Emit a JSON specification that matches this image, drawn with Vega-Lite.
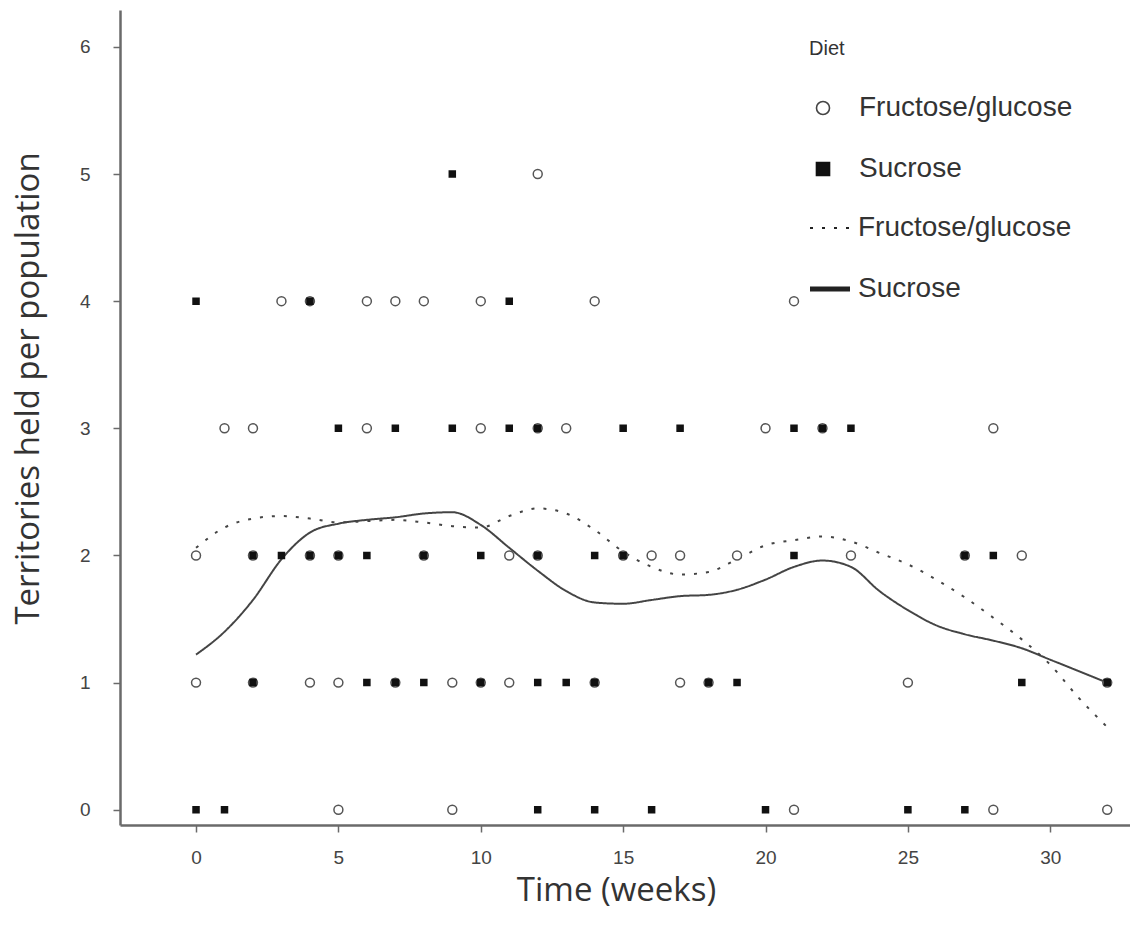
{
  "$schema": "https://vega.github.io/schema/vega-lite/v6.json",
  "autosize": "none",
  "width": 1010,
  "height": 815,
  "padding": {"left": 120, "top": 10, "right": 0, "bottom": 113},
  "background": "white",
  "config": {
    "view": {"stroke": null},
    "axis": {
      "grid": false,
      "domainColor": "#6a6a6a",
      "domainWidth": 2.5,
      "tickColor": "#6a6a6a",
      "tickWidth": 1.5,
      "tickSize": 7,
      "labelFont": "Liberation Sans",
      "labelFontSize": 19,
      "labelColor": "#444",
      "titleFont": "Open Sans",
      "titleFontSize": 33,
      "titleFontWeight": "normal",
      "titleColor": "#333"
    },
    "legend": {
      "labelFont": "Liberation Sans",
      "labelFontSize": 28,
      "labelColor": "#333",
      "labelLimit": 0,
      "titleFont": "Liberation Sans",
      "titleFontSize": 20,
      "titleFontWeight": "normal",
      "titleColor": "#333"
    }
  },
  "datasets": {
    "curves": [
      {"week": 0, "territories": 1.22, "diet": "Sucrose"},
      {"week": 1, "territories": 1.4, "diet": "Sucrose"},
      {"week": 2, "territories": 1.65, "diet": "Sucrose"},
      {"week": 3, "territories": 1.97, "diet": "Sucrose"},
      {"week": 4, "territories": 2.18, "diet": "Sucrose"},
      {"week": 5, "territories": 2.25, "diet": "Sucrose"},
      {"week": 6, "territories": 2.28, "diet": "Sucrose"},
      {"week": 7, "territories": 2.3, "diet": "Sucrose"},
      {"week": 8, "territories": 2.33, "diet": "Sucrose"},
      {"week": 9, "territories": 2.34, "diet": "Sucrose"},
      {"week": 10, "territories": 2.24, "diet": "Sucrose"},
      {"week": 11, "territories": 2.06, "diet": "Sucrose"},
      {"week": 12, "territories": 1.88, "diet": "Sucrose"},
      {"week": 13, "territories": 1.72, "diet": "Sucrose"},
      {"week": 14, "territories": 1.63, "diet": "Sucrose"},
      {"week": 15, "territories": 1.62, "diet": "Sucrose"},
      {"week": 16, "territories": 1.65, "diet": "Sucrose"},
      {"week": 17, "territories": 1.68, "diet": "Sucrose"},
      {"week": 18, "territories": 1.69, "diet": "Sucrose"},
      {"week": 19, "territories": 1.73, "diet": "Sucrose"},
      {"week": 20, "territories": 1.81, "diet": "Sucrose"},
      {"week": 21, "territories": 1.91, "diet": "Sucrose"},
      {"week": 22, "territories": 1.96, "diet": "Sucrose"},
      {"week": 23, "territories": 1.91, "diet": "Sucrose"},
      {"week": 24, "territories": 1.72, "diet": "Sucrose"},
      {"week": 25, "territories": 1.57, "diet": "Sucrose"},
      {"week": 26, "territories": 1.45, "diet": "Sucrose"},
      {"week": 27, "territories": 1.38, "diet": "Sucrose"},
      {"week": 28, "territories": 1.33, "diet": "Sucrose"},
      {"week": 29, "territories": 1.27, "diet": "Sucrose"},
      {"week": 30, "territories": 1.18, "diet": "Sucrose"},
      {"week": 31, "territories": 1.09, "diet": "Sucrose"},
      {"week": 32, "territories": 1.0, "diet": "Sucrose"},
      {"week": 0, "territories": 2.06, "diet": "Fructose/glucose"},
      {"week": 1, "territories": 2.22, "diet": "Fructose/glucose"},
      {"week": 2, "territories": 2.29, "diet": "Fructose/glucose"},
      {"week": 3, "territories": 2.31, "diet": "Fructose/glucose"},
      {"week": 4, "territories": 2.29, "diet": "Fructose/glucose"},
      {"week": 5, "territories": 2.26, "diet": "Fructose/glucose"},
      {"week": 6, "territories": 2.27, "diet": "Fructose/glucose"},
      {"week": 7, "territories": 2.28, "diet": "Fructose/glucose"},
      {"week": 8, "territories": 2.26, "diet": "Fructose/glucose"},
      {"week": 9, "territories": 2.23, "diet": "Fructose/glucose"},
      {"week": 10, "territories": 2.22, "diet": "Fructose/glucose"},
      {"week": 11, "territories": 2.31, "diet": "Fructose/glucose"},
      {"week": 12, "territories": 2.37, "diet": "Fructose/glucose"},
      {"week": 13, "territories": 2.33, "diet": "Fructose/glucose"},
      {"week": 14, "territories": 2.2, "diet": "Fructose/glucose"},
      {"week": 15, "territories": 2.03, "diet": "Fructose/glucose"},
      {"week": 16, "territories": 1.91, "diet": "Fructose/glucose"},
      {"week": 17, "territories": 1.85, "diet": "Fructose/glucose"},
      {"week": 18, "territories": 1.87, "diet": "Fructose/glucose"},
      {"week": 19, "territories": 1.97, "diet": "Fructose/glucose"},
      {"week": 20, "territories": 2.08, "diet": "Fructose/glucose"},
      {"week": 21, "territories": 2.12, "diet": "Fructose/glucose"},
      {"week": 22, "territories": 2.15, "diet": "Fructose/glucose"},
      {"week": 23, "territories": 2.11, "diet": "Fructose/glucose"},
      {"week": 24, "territories": 2.02, "diet": "Fructose/glucose"},
      {"week": 25, "territories": 1.93, "diet": "Fructose/glucose"},
      {"week": 26, "territories": 1.81, "diet": "Fructose/glucose"},
      {"week": 27, "territories": 1.67, "diet": "Fructose/glucose"},
      {"week": 28, "territories": 1.51, "diet": "Fructose/glucose"},
      {"week": 29, "territories": 1.34, "diet": "Fructose/glucose"},
      {"week": 30, "territories": 1.14, "diet": "Fructose/glucose"},
      {"week": 31, "territories": 0.88, "diet": "Fructose/glucose"},
      {"week": 32, "territories": 0.65, "diet": "Fructose/glucose"}
    ],
    "points": [
      {"week": 12, "territories": 5, "diet": "Fructose/glucose"},
      {"week": 3, "territories": 4, "diet": "Fructose/glucose"},
      {"week": 4, "territories": 4, "diet": "Fructose/glucose"},
      {"week": 6, "territories": 4, "diet": "Fructose/glucose"},
      {"week": 7, "territories": 4, "diet": "Fructose/glucose"},
      {"week": 8, "territories": 4, "diet": "Fructose/glucose"},
      {"week": 10, "territories": 4, "diet": "Fructose/glucose"},
      {"week": 14, "territories": 4, "diet": "Fructose/glucose"},
      {"week": 21, "territories": 4, "diet": "Fructose/glucose"},
      {"week": 1, "territories": 3, "diet": "Fructose/glucose"},
      {"week": 2, "territories": 3, "diet": "Fructose/glucose"},
      {"week": 6, "territories": 3, "diet": "Fructose/glucose"},
      {"week": 10, "territories": 3, "diet": "Fructose/glucose"},
      {"week": 12, "territories": 3, "diet": "Fructose/glucose"},
      {"week": 13, "territories": 3, "diet": "Fructose/glucose"},
      {"week": 20, "territories": 3, "diet": "Fructose/glucose"},
      {"week": 22, "territories": 3, "diet": "Fructose/glucose"},
      {"week": 28, "territories": 3, "diet": "Fructose/glucose"},
      {"week": 0, "territories": 2, "diet": "Fructose/glucose"},
      {"week": 2, "territories": 2, "diet": "Fructose/glucose"},
      {"week": 4, "territories": 2, "diet": "Fructose/glucose"},
      {"week": 5, "territories": 2, "diet": "Fructose/glucose"},
      {"week": 8, "territories": 2, "diet": "Fructose/glucose"},
      {"week": 11, "territories": 2, "diet": "Fructose/glucose"},
      {"week": 12, "territories": 2, "diet": "Fructose/glucose"},
      {"week": 15, "territories": 2, "diet": "Fructose/glucose"},
      {"week": 16, "territories": 2, "diet": "Fructose/glucose"},
      {"week": 17, "territories": 2, "diet": "Fructose/glucose"},
      {"week": 19, "territories": 2, "diet": "Fructose/glucose"},
      {"week": 23, "territories": 2, "diet": "Fructose/glucose"},
      {"week": 27, "territories": 2, "diet": "Fructose/glucose"},
      {"week": 29, "territories": 2, "diet": "Fructose/glucose"},
      {"week": 0, "territories": 1, "diet": "Fructose/glucose"},
      {"week": 2, "territories": 1, "diet": "Fructose/glucose"},
      {"week": 4, "territories": 1, "diet": "Fructose/glucose"},
      {"week": 5, "territories": 1, "diet": "Fructose/glucose"},
      {"week": 7, "territories": 1, "diet": "Fructose/glucose"},
      {"week": 9, "territories": 1, "diet": "Fructose/glucose"},
      {"week": 10, "territories": 1, "diet": "Fructose/glucose"},
      {"week": 11, "territories": 1, "diet": "Fructose/glucose"},
      {"week": 14, "territories": 1, "diet": "Fructose/glucose"},
      {"week": 17, "territories": 1, "diet": "Fructose/glucose"},
      {"week": 18, "territories": 1, "diet": "Fructose/glucose"},
      {"week": 25, "territories": 1, "diet": "Fructose/glucose"},
      {"week": 32, "territories": 1, "diet": "Fructose/glucose"},
      {"week": 5, "territories": 0, "diet": "Fructose/glucose"},
      {"week": 9, "territories": 0, "diet": "Fructose/glucose"},
      {"week": 21, "territories": 0, "diet": "Fructose/glucose"},
      {"week": 28, "territories": 0, "diet": "Fructose/glucose"},
      {"week": 32, "territories": 0, "diet": "Fructose/glucose"},
      {"week": 9, "territories": 5, "diet": "Sucrose"},
      {"week": 0, "territories": 4, "diet": "Sucrose"},
      {"week": 4, "territories": 4, "diet": "Sucrose"},
      {"week": 11, "territories": 4, "diet": "Sucrose"},
      {"week": 5, "territories": 3, "diet": "Sucrose"},
      {"week": 7, "territories": 3, "diet": "Sucrose"},
      {"week": 9, "territories": 3, "diet": "Sucrose"},
      {"week": 11, "territories": 3, "diet": "Sucrose"},
      {"week": 12, "territories": 3, "diet": "Sucrose"},
      {"week": 15, "territories": 3, "diet": "Sucrose"},
      {"week": 17, "territories": 3, "diet": "Sucrose"},
      {"week": 21, "territories": 3, "diet": "Sucrose"},
      {"week": 22, "territories": 3, "diet": "Sucrose"},
      {"week": 23, "territories": 3, "diet": "Sucrose"},
      {"week": 2, "territories": 2, "diet": "Sucrose"},
      {"week": 3, "territories": 2, "diet": "Sucrose"},
      {"week": 4, "territories": 2, "diet": "Sucrose"},
      {"week": 5, "territories": 2, "diet": "Sucrose"},
      {"week": 6, "territories": 2, "diet": "Sucrose"},
      {"week": 8, "territories": 2, "diet": "Sucrose"},
      {"week": 10, "territories": 2, "diet": "Sucrose"},
      {"week": 12, "territories": 2, "diet": "Sucrose"},
      {"week": 14, "territories": 2, "diet": "Sucrose"},
      {"week": 15, "territories": 2, "diet": "Sucrose"},
      {"week": 21, "territories": 2, "diet": "Sucrose"},
      {"week": 27, "territories": 2, "diet": "Sucrose"},
      {"week": 28, "territories": 2, "diet": "Sucrose"},
      {"week": 2, "territories": 1, "diet": "Sucrose"},
      {"week": 6, "territories": 1, "diet": "Sucrose"},
      {"week": 7, "territories": 1, "diet": "Sucrose"},
      {"week": 8, "territories": 1, "diet": "Sucrose"},
      {"week": 10, "territories": 1, "diet": "Sucrose"},
      {"week": 12, "territories": 1, "diet": "Sucrose"},
      {"week": 13, "territories": 1, "diet": "Sucrose"},
      {"week": 14, "territories": 1, "diet": "Sucrose"},
      {"week": 18, "territories": 1, "diet": "Sucrose"},
      {"week": 19, "territories": 1, "diet": "Sucrose"},
      {"week": 29, "territories": 1, "diet": "Sucrose"},
      {"week": 32, "territories": 1, "diet": "Sucrose"},
      {"week": 0, "territories": 0, "diet": "Sucrose"},
      {"week": 1, "territories": 0, "diet": "Sucrose"},
      {"week": 12, "territories": 0, "diet": "Sucrose"},
      {"week": 14, "territories": 0, "diet": "Sucrose"},
      {"week": 16, "territories": 0, "diet": "Sucrose"},
      {"week": 20, "territories": 0, "diet": "Sucrose"},
      {"week": 25, "territories": 0, "diet": "Sucrose"},
      {"week": 27, "territories": 0, "diet": "Sucrose"}
    ]
  },
  "encoding": {
    "x": {
      "field": "week",
      "type": "quantitative",
      "scale": {"domain": [-2.67, 32.8], "nice": false, "zero": false},
      "axis": {"values": [0, 5, 10, 15, 20, 25, 30], "title": "Time (weeks)", "labelPadding": 16, "titlePadding": 7, "titleX": 496}
    },
    "y": {
      "field": "territories",
      "type": "quantitative",
      "scale": {"domain": [-0.12, 6.29], "nice": false, "zero": false},
      "axis": {"values": [0, 1, 2, 3, 4, 5, 6], "title": "Territories held per population", "labelPadding": 23, "titlePadding": 34, "titleY": 378}
    }
  },
  "layer": [
    {
      "data": {"name": "curves"},
      "mark": {"type": "line", "interpolate": "monotone", "strokeWidth": 2, "color": "#444"},
      "encoding": {
        "strokeDash": {
          "field": "diet",
          "type": "nominal",
          "scale": {"domain": ["Fructose/glucose", "Sucrose"], "range": [[3, 9], [1, 0]]},
          "legend": {
            "title": null,
            "orient": "none",
            "legendX": 696,
            "legendY": 204,
            "symbolType": "stroke",
            "symbolSize": 1600,
            "symbolStrokeColor": "#222",
            "symbolStrokeWidth": 2,
            "labelOffset": 14,
            "rowPadding": 33,
            "encode": {
              "symbols": {"update": {"strokeWidth": {"signal": "datum.value === 'Sucrose' ? 5 : 2"}, "stroke": {"value": "#222"}}}
            }
          }
        },
        "detail": {"field": "diet"}
      }
    },
    {
      "data": {"name": "points"},
      "mark": {"type": "point", "strokeWidth": 1.5, "opacity": 1, "filled": false},
      "encoding": {
        "shape": {
          "field": "diet",
          "type": "nominal",
          "scale": {"domain": ["Fructose/glucose", "Sucrose"], "range": ["circle", "square"]},
          "legend": {
            "title": "Diet",
            "orient": "none",
            "legendX": 689,
            "legendY": 29,
            "symbolSize": 170,
            "labelOffset": 22,
            "rowPadding": 33,
            "titlePadding": 35,
            "symbolStrokeWidth": 1.6,
            "symbolFillColor": {"expr": "datum.value === 'Sucrose' ? '#111' : 'white'"},
            "symbolStrokeColor": {"expr": "datum.value === 'Sucrose' ? '#111' : '#444'"}
          }
        },
        "size": {
          "field": "diet",
          "type": "nominal",
          "scale": {"domain": ["Fructose/glucose", "Sucrose"], "range": [80, 36]},
          "legend": null
        },
        "fill": {
          "field": "diet",
          "type": "nominal",
          "scale": {"domain": ["Fructose/glucose", "Sucrose"], "range": ["white", "#111"]},
          "legend": null
        },
        "stroke": {
          "field": "diet",
          "type": "nominal",
          "scale": {"domain": ["Fructose/glucose", "Sucrose"], "range": ["#555", "#111"]},
          "legend": null
        }
      }
    }
  ],
  "resolve": {"scale": {"strokeDash": "independent", "shape": "independent"}}
}
